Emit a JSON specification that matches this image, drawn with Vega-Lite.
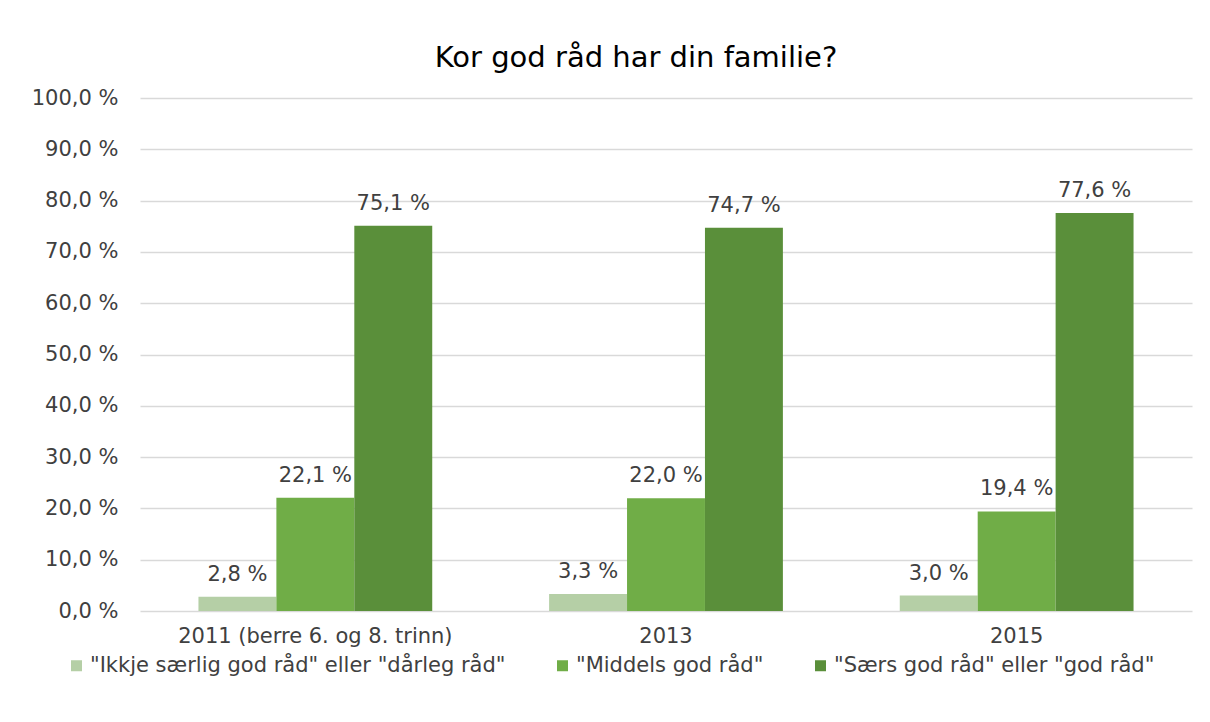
{
  "$schema": "https://vega.github.io/schema/vega-lite/v6.json",
  "width": 1052,
  "height": 513,
  "autosize": {"type": "none"},
  "padding": {"left": 140, "top": 98, "right": 18, "bottom": 111},
  "background": "white",
  "title": {
    "text": "Kor god råd har din familie?",
    "anchor": "middle",
    "frame": "group",
    "dx": -30,
    "offset": 14,
    "font": "DejaVu Sans",
    "fontSize": 29,
    "fontWeight": "normal",
    "color": "#000000"
  },
  "data": {
    "values": [
      {"year": "2011 (berre 6. og 8. trinn)", "svar": "\"Ikkje særlig god råd\" eller \"dårleg råd\"", "pct": 2.8},
      {"year": "2011 (berre 6. og 8. trinn)", "svar": "\"Middels god råd\"", "pct": 22.1},
      {"year": "2011 (berre 6. og 8. trinn)", "svar": "\"Særs god råd\" eller \"god råd\"", "pct": 75.1},
      {"year": "2013", "svar": "\"Ikkje særlig god råd\" eller \"dårleg råd\"", "pct": 3.3},
      {"year": "2013", "svar": "\"Middels god råd\"", "pct": 22.0},
      {"year": "2013", "svar": "\"Særs god råd\" eller \"god råd\"", "pct": 74.7},
      {"year": "2015", "svar": "\"Ikkje særlig god råd\" eller \"dårleg råd\"", "pct": 3.0},
      {"year": "2015", "svar": "\"Middels god råd\"", "pct": 19.4},
      {"year": "2015", "svar": "\"Særs god råd\" eller \"god råd\"", "pct": 77.6}
    ]
  },
  "encoding": {
    "x": {
      "field": "year",
      "type": "nominal",
      "sort": null,
      "scale": {"paddingInner": 0.3333, "paddingOuter": 0.1667},
      "axis": {
        "title": null,
        "labelAngle": 0,
        "labelLimit": 0,
        "ticks": false,
        "domain": false,
        "labelPadding": 14,
        "labelFont": "DejaVu Sans",
        "labelFontSize": 21,
        "labelColor": "#404040"
      }
    },
    "xOffset": {
      "field": "svar",
      "type": "nominal",
      "sort": ["\"Ikkje særlig god råd\" eller \"dårleg råd\"", "\"Middels god råd\"", "\"Særs god råd\" eller \"god råd\""],
      "scale": {"paddingInner": 0, "paddingOuter": 0}
    },
    "y": {
      "field": "pct",
      "type": "quantitative",
      "scale": {"domain": [0, 100]},
      "axis": {
        "title": null,
        "values": [0, 10, 20, 30, 40, 50, 60, 70, 80, 90, 100],
        "labelExpr": "replace(format(datum.value, '.1f'), '.', ',') + ' %'",
        "ticks": false,
        "domain": false,
        "grid": true,
        "gridColor": "#d9d9d9",
        "gridWidth": 1.3,
        "labelPadding": 22,
        "labelFont": "DejaVu Sans",
        "labelFontSize": 21,
        "labelColor": "#404040"
      }
    }
  },
  "layer": [
    {
      "mark": {"type": "bar"},
      "encoding": {
        "color": {
          "field": "svar",
          "type": "nominal",
          "scale": {
            "domain": ["\"Ikkje særlig god råd\" eller \"dårleg råd\"", "\"Middels god råd\"", "\"Særs god råd\" eller \"god råd\""],
            "range": ["#b5cfa6", "#70ad47", "#5a8f3a"]
          },
          "legend": {
            "title": null,
            "orient": "none",
            "legendX": -74,
            "legendY": 557,
            "direction": "horizontal",
            "symbolType": "square",
            "symbolSize": 121,
            "symbolStrokeWidth": 0,
            "labelFont": "DejaVu Sans",
            "labelFontSize": 21,
            "labelColor": "#404040",
            "labelLimit": 0,
            "columnPadding": 46,
            "labelOffset": 3
          }
        }
      }
    },
    {
      "mark": {
        "type": "text",
        "baseline": "middle",
        "dy": -22,
        "font": "DejaVu Sans",
        "fontSize": 21,
        "color": "#404040"
      },
      "encoding": {
        "text": {"field": "label", "type": "nominal"}
      },
      "transform": [
        {"calculate": "replace(format(datum.pct, '.1f'), '.', ',') + ' %'", "as": "label"}
      ]
    }
  ],
  "config": {
    "view": {"stroke": null},
    "font": "DejaVu Sans"
  }
}
